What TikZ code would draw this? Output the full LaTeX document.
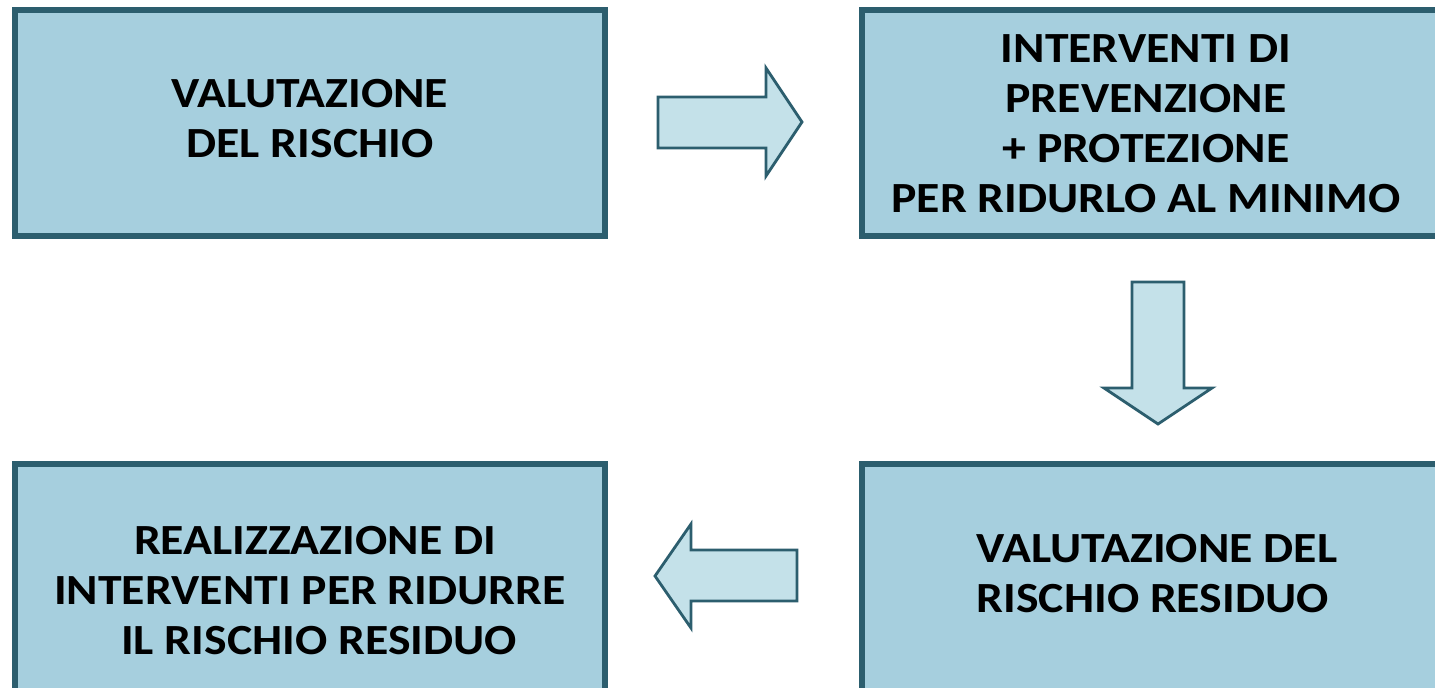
\documentclass[tikz,border=0pt]{standalone}
\usepackage{fontspec}
\setmainfont{Carlito}
\newfontfamily\boxfont{Carlito}[FakeStretch=1.11]

\tikzset{every picture/.style={line width=0.75pt}}

\begin{document}
\begin{tikzpicture}[x=0.5pt,y=0.5pt,yscale=-1,xscale=1,
	box/.style={draw={rgb, 255:red, 44; green, 94; blue, 110 }, fill={rgb, 255:red, 166; green, 207; blue, 222 }, line width=3pt, rectangle, outer sep=0pt, inner sep=0pt, anchor=north west, minimum width=294.75pt},
	blockarrow/.style={draw={rgb, 255:red, 44; green, 94; blue, 110 }, fill={rgb, 255:red, 196; green, 225; blue, 233 }, line width=1.4pt, line join=miter},
	boxtext/.style={inner sep=0pt, font=\boxfont\fontsize{21.5pt}{25pt}\selectfont\bfseries, text={rgb, 255:red, 0; green, 0; blue, 0 }}]
	\useasboundingbox (0,0) rectangle (1435,687);
	\clip (0,0) rectangle (1435,687);

	%Shape: Rectangle [id:valutazione]
	\node[box, minimum height=113pt] (valutazione) at (15,10) {};
	%Shape: Rectangle [id:interventi]
	\node[box, minimum height=113pt] (interventi) at (862,10) {};
	%Shape: Rectangle [id:residuo]
	\node[box, minimum height=130pt] (residuo) at (862,464) {};
	%Shape: Rectangle [id:realizzazione]
	\node[box, minimum height=130pt] (realizzazione) at (15,464) {};

	%Shape: Right Arrow [id:freccia1]
	\draw [blockarrow] (658,97) -- (766,97) -- (766,68) -- (802,122) -- (766,176) -- (766,148) -- (658,148) -- cycle ;
	%Shape: Down Arrow [id:freccia2]
	\draw [blockarrow] (1132,282) -- (1184,282) -- (1184,388) -- (1212,388) -- (1158,424) -- (1104,388) -- (1132,388) -- cycle ;
	%Shape: Left Arrow [id:freccia3]
	\draw [blockarrow] (797,550) -- (691,550) -- (691,524) -- (655,576) -- (691,628) -- (691,601) -- (797,601) -- cycle ;

	% Text Node
	\node[boxtext, align=center] (valutazioneT) at (310,119) {VALUTAZIONE\\DEL RISCHIO};
	% Text Node
	\node[boxtext, align=center] (interventiT) at (1146,123.5) {INTERVENTI DI\\PREVENZIONE\\+ PROTEZIONE\\PER RIDURLO AL MINIMO};
	% Text Node
	\node[boxtext, align=left, anchor=west] (residuoT) at (976,573.5) {VALUTAZIONE DEL\\RISCHIO RESIDUO};
	% Text Node
	\node[boxtext, align=center] (realizzazioneT) at (310,590.5) {\hspace*{5pt}REALIZZAZIONE DI\\INTERVENTI PER RIDURRE\hspace*{9pt}\\\hspace*{9pt}IL RISCHIO RESIDUO};

\end{tikzpicture}
\end{document}
